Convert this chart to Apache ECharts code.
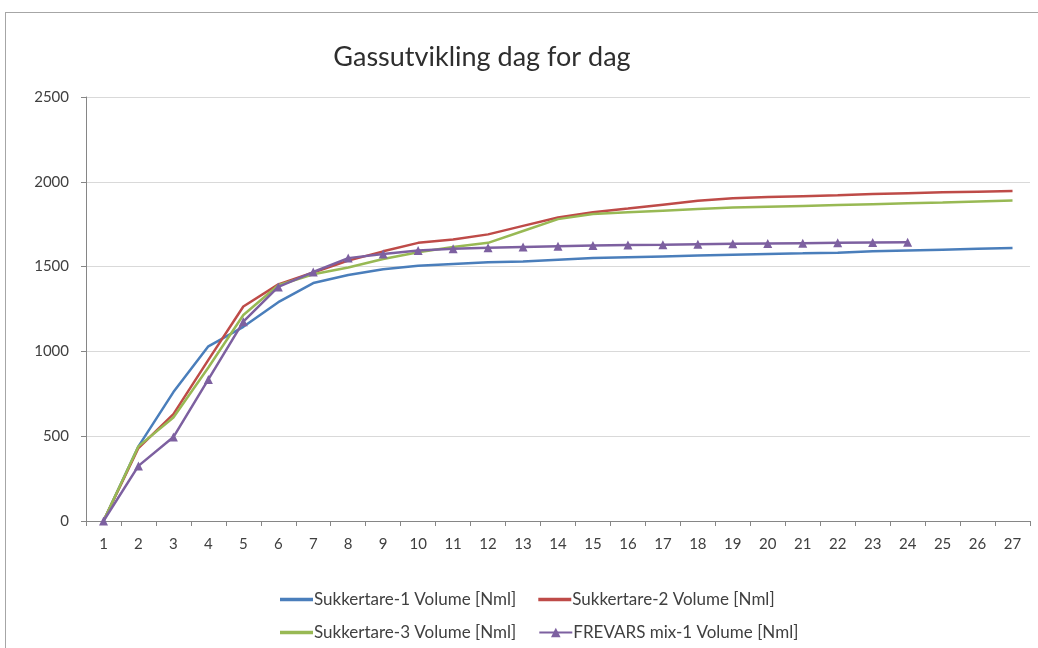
<!DOCTYPE html>
<html><head><meta charset="utf-8">
<script src="https://cdn.jsdelivr.net/npm/echarts@6/dist/echarts.min.js"></script>
<style>
html,body{margin:0;padding:0;background:#fff;}
#frame{position:absolute;left:5px;top:12px;width:1040px;height:650px;border:1px solid #a6a6a6;box-sizing:border-box;}
#c{position:absolute;left:0;top:0;width:1038px;height:648px;}
</style></head>
<body>
<div id="frame"></div>
<div id="c"></div>
<script>
const days = ['1','2','3','4','5','6','7','8','9','10','11','12','13','14','15','16','17','18','19','20','21','22','23','24','25','26','27'];
const sukkertare1 = [0,440,760,1030,1145,1290,1403,1450,1485,1505,1515,1525,1530,1540,1550,1555,1560,1565,1570,1575,1578,1582,1590,1595,1600,1605,1610];
const sukkertare2 = [0,430,630,950,1265,1395,1465,1535,1590,1640,1660,1690,1740,1790,1820,1842,1865,1888,1903,1910,1915,1920,1928,1933,1938,1942,1946];
const sukkertare3 = [0,440,610,905,1215,1390,1455,1495,1545,1585,1615,1640,1710,1780,1810,1820,1830,1840,1848,1853,1858,1863,1868,1873,1878,1884,1890];
const frevars = [0,325,495,835,1175,1380,1468,1550,1574,1595,1605,1611,1616,1620,1624,1627,1629,1632,1634,1636,1638,1640,1642,1644];
const names = ['Sukkertare-1 Volume [Nml]','Sukkertare-2 Volume [Nml]','Sukkertare-3 Volume [Nml]','FREVARS mix-1 Volume [Nml]'];
const yTicks = [0,500,1000,1500,2000,2500];

const font = 'Lato, "Open Sans", sans-serif';
const chart = echarts.init(document.getElementById('c'));
const lineIcon = 'path://M0,0L30,0L30,3L0,3Z';
function line(name, data, color, withSym){
  return {name, type:'line', data, smooth:false,
    symbol: withSym ? 'triangle' : 'none', symbolSize: 9, showSymbol: !!withSym,
    lineStyle:{color, width:2.5}, itemStyle:{color}, z: withSym?5:3};
}
const legendText = {fontFamily:font, fontSize:17, color:'#404040', padding:[0,0,0,-4]};
chart.setOption({
  animation:false,
  textStyle:{fontFamily:font},
  title:{text:'Gassutvikling dag for dag', left:477, top:39, textAlign:'center',
    textStyle:{fontFamily:font, fontSize:27, fontWeight:'normal', color:'#2e2e2e'}},
  legend:[
    {data:[{name:names[0], icon:lineIcon},{name:names[1], icon:lineIcon}], left:275, top:586, itemWidth:33, itemHeight:12, itemGap:22,
      textStyle:legendText},
    {data:[{name:names[2], icon:lineIcon}, names[3]], left:275, top:619, itemWidth:33, itemHeight:12, itemGap:22,
      textStyle:legendText}
  ],
  grid:{left:86, right:8, top:97, bottom:127, containLabel:false},
  xAxis:{type:'category', data:days, boundaryGap:true,
    axisLine:{lineStyle:{color:'#868686'}},
    axisTick:{show:true, length:5, lineStyle:{color:'#868686'}},
    axisLabel:{color:'#404040', fontSize:15, fontFamily:font, margin:16}},
  yAxis:{type:'value', min:0, max:2500, interval:500,
    axisLine:{show:true, lineStyle:{color:'#868686'}},
    axisTick:{show:true, length:5, lineStyle:{color:'#868686'}},
    splitLine:{lineStyle:{color:'#d9d9d9', width:1}},
    axisLabel:{color:'#404040', fontSize:15, fontFamily:font, margin:17,
      formatter:v => yTicks.includes(v) ? String(v) : ''}},
  series:[
    line(names[0], sukkertare1, '#4a7ebb'),
    line(names[1], sukkertare2, '#be4b48'),
    line(names[2], sukkertare3, '#98b954'),
    line(names[3], frevars, '#7d60a0', true)
  ]
});
</script>
</body></html>
